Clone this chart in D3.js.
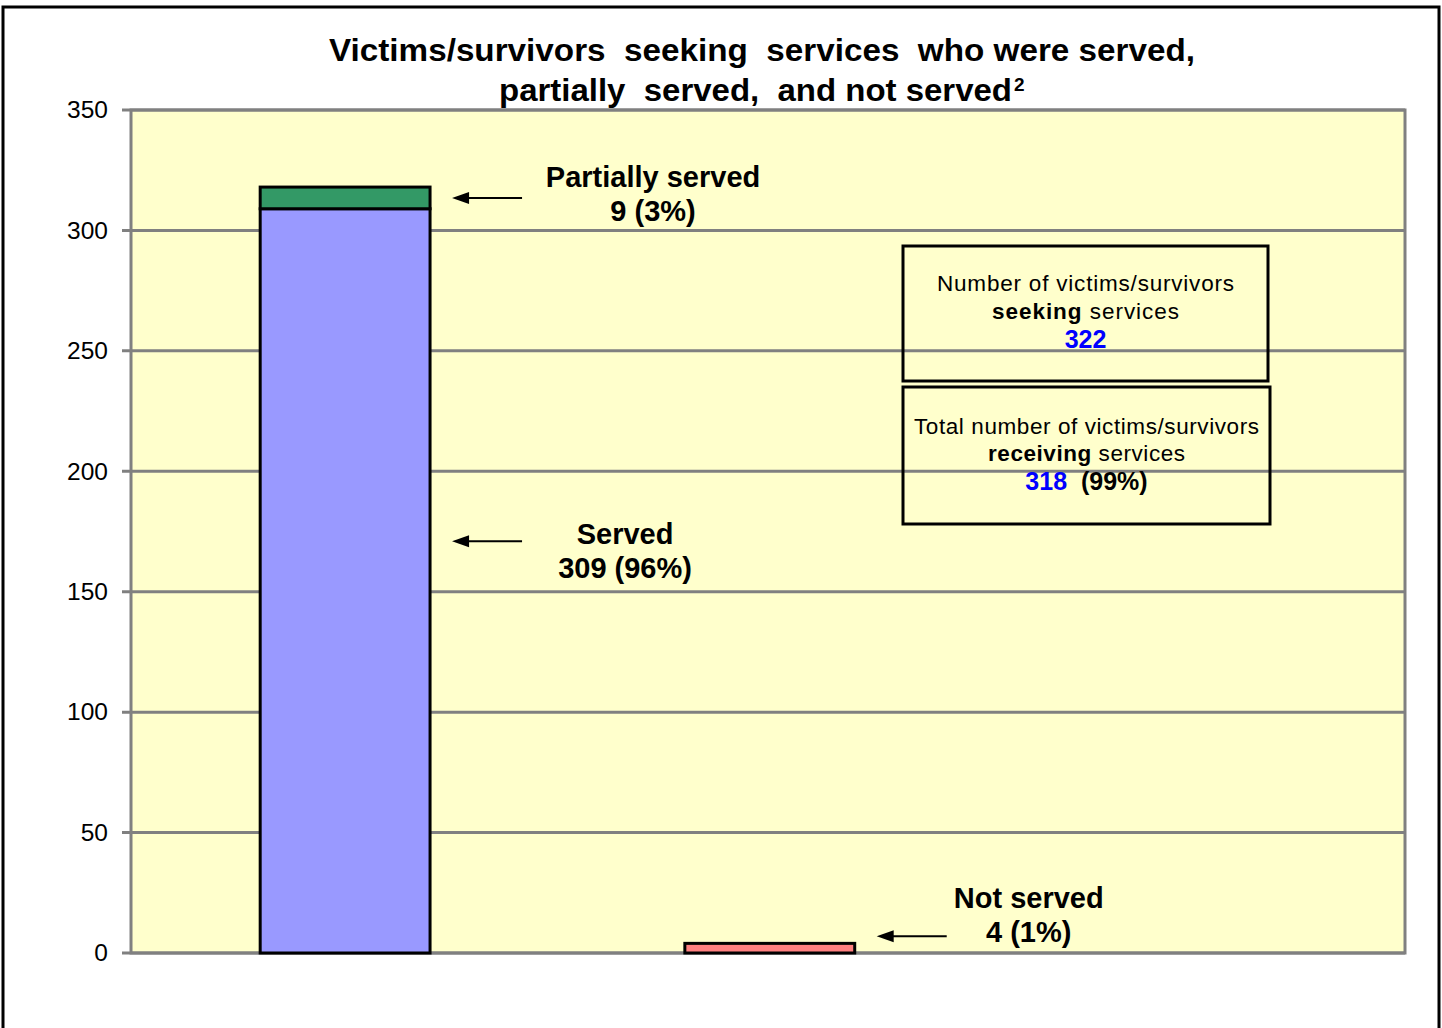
<!DOCTYPE html>
<html><head><meta charset="utf-8">
<script src="https://cdn.jsdelivr.net/npm/d3@7"></script>
<style>body{margin:0;background:#fff}svg{display:block}text{white-space:pre}</style>
</head><body>
<script>
const categories = ["Served / partially served", "Not served", ""];
const servedValues = [309, 0, 0];
const partialValues = [9, 0, 0];
const notServedValues = [0, 4, 0];
const yTicks = [0, 50, 100, 150, 200, 250, 300, 350];
const titleLines = ["Victims/survivors  seeking  services  who were served,", "partially  served,  and not served"];
const annotations = [
  {cat: 0, value: 313.5, lines: ["Partially served", "9 (3%)"], dx: 223, labelDy: -11},
  {cat: 0, value: 171, lines: ["Served", "309 (96%)"], dx: 195, labelDy: 3},
  {cat: 1, value: 7, lines: ["Not served", "4 (1%)"], dx: 174, labelDy: -28}
];
const seekingTotal = 322, receivingTotal = 318, receivingPct = "99%";

const W = 1442, H = 1028;
const m = {left: 131, right: 1405, top: 110, bottom: 953};
const svg = d3.select("body").append("svg").attr("width", W).attr("height", H);
const arial = "'Liberation Sans',Arial,sans-serif";

svg.append("rect").attr("x", 3).attr("y", 7).attr("width", 1436).attr("height", 1100)
  .attr("fill", "#fff").attr("stroke", "#000").attr("stroke-width", 3);

const x = d3.scaleBand().domain(categories).range([m.left, m.right])
  .paddingInner(0.6).paddingOuter(0.3).align(0.507);
const y = d3.scaleLinear().domain([0, 350]).range([m.bottom, m.top]);

svg.append("rect").attr("x", m.left).attr("y", m.top).attr("width", m.right - m.left).attr("height", m.bottom - m.top)
  .attr("fill", "#FFFFCC");

// gridlines
svg.append("g").selectAll("line").data(yTicks).join("line")
  .attr("x1", m.left - 9).attr("x2", m.right).attr("y1", d => y(d)).attr("y2", d => y(d))
  .attr("stroke", "#808080").attr("stroke-width", 3);
// plot border
svg.append("rect").attr("x", m.left).attr("y", m.top).attr("width", m.right - m.left).attr("height", m.bottom - m.top)
  .attr("fill", "none").attr("stroke", "#808080").attr("stroke-width", 3);

const yAxis = svg.append("g").attr("transform", `translate(${m.left},0)`)
  .call(d3.axisLeft(y).tickValues(yTicks).tickSize(0).tickPadding(23));
yAxis.select(".domain").remove();
yAxis.selectAll("text").attr("font-family", arial).attr("font-size", 24.5).attr("fill", "#000");

// bars
const bw = x.bandwidth();
function bar(i, y0, y1, fill) {
  svg.append("rect").attr("x", x(categories[i])).attr("width", bw)
    .attr("y", y(y1)).attr("height", y(y0) - y(y1))
    .attr("fill", fill).attr("stroke", "#000").attr("stroke-width", 3);
}
categories.forEach((c, i) => {
  if (servedValues[i] > 0) bar(i, 0, servedValues[i], "#9999FF");
  if (partialValues[i] > 0) bar(i, servedValues[i], servedValues[i] + partialValues[i], "#339966");
  if (notServedValues[i] > 0) bar(i, 0, notServedValues[i], "#FF8080");
});

// arrows + labels
annotations.forEach(a => {
  const bx = x(categories[a.cat]) + bw;
  const ay = y(a.value);
  const tip = bx + 22, tail = bx + 92;
  svg.append("line").attr("x1", tail).attr("x2", tip + 12).attr("y1", ay).attr("y2", ay)
    .attr("stroke", "#000").attr("stroke-width", 2);
  svg.append("path").attr("d", `M${tip},${ay} L${tip + 17},${ay - 6} L${tip + 17},${ay + 6} Z`).attr("fill", "#000");
  const t = svg.append("text").attr("text-anchor", "middle")
    .attr("font-family", arial).attr("font-weight", "bold")
    .attr("font-size", 29).attr("fill", "#000");
  const cx = bx + a.dx;
  const baseY = ay + a.labelDy;
  a.lines.forEach((l, k) => t.append("tspan").attr("x", cx).attr("y", baseY + k * 34).text(l));
});

// title
svg.append("text").attr("x", 329).attr("y", 61).attr("font-family", arial)
  .attr("font-weight", "bold").attr("font-size", 31).attr("fill", "#000")
  .attr("textLength", 866).attr("lengthAdjust", "spacingAndGlyphs").text(titleLines[0]);
svg.append("text").attr("x", 499).attr("y", 101).attr("font-family", arial)
  .attr("font-weight", "bold").attr("font-size", 31).attr("fill", "#000")
  .attr("textLength", 513).attr("lengthAdjust", "spacingAndGlyphs").text(titleLines[1]);
svg.append("text").attr("x", 1014).attr("y", 91).attr("font-family", arial)
  .attr("font-weight", "bold").attr("font-size", 19).attr("fill", "#000").text("2");

// info boxes
function box(x0, y0, w, h, lines) {
  svg.append("rect").attr("x", x0).attr("y", y0).attr("width", w).attr("height", h)
    .attr("fill", "none").attr("stroke", "#000").attr("stroke-width", 3);
  lines.forEach(parts => {
    const t = svg.append("text").attr("text-anchor", "middle").attr("x", x0 + w / 2)
      .attr("y", y0 + parts.dy).attr("font-family", arial).attr("font-size", parts.fs || 22.5).attr("fill", "#000");
    if (parts.len) t.attr("textLength", parts.len).attr("lengthAdjust", "spacing");
    parts.segs.forEach(s => t.append("tspan").attr("font-weight", s.b ? "bold" : "normal")
      .attr("fill", s.c || "#000").text(s.t));
  });
}
box(903, 246, 365, 135, [
  {dy: 45, len: 297, segs: [{t: "Number of victims/survivors"}]},
  {dy: 73, len: 187, segs: [{t: "seeking", b: true}, {t: " services"}]},
  {dy: 102, fs: 25, segs: [{t: String(seekingTotal), b: true, c: "#0000FF"}]}
]);
box(903, 387, 367, 137, [
  {dy: 47, len: 345, segs: [{t: "Total number of victims/survivors"}]},
  {dy: 74, len: 197, segs: [{t: "receiving", b: true}, {t: " services"}]},
  {dy: 103, fs: 25, segs: [{t: String(receivingTotal), b: true, c: "#0000FF"}, {t: "  (" + receivingPct + ")", b: true}]}
]);
</script>
</body></html>
